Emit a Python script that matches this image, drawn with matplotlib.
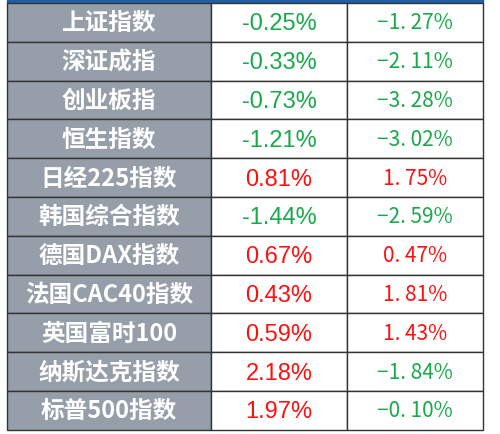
import matplotlib.pyplot as plt
from matplotlib.patches import Rectangle

plt.rcParams['font.family'] = ['Noto Sans CJK SC', 'DejaVu Sans']

names = ["上证指数", "深证成指", "创业板指", "恒生指数", "日经225指数", "韩国综合指数",
         "德国DAX指数", "法国CAC40指数", "英国富时100", "纳斯达克指数", "标普500指数"]
day_chg = [-0.25, -0.33, -0.73, -1.21, 0.81, -1.44, 0.67, 0.43, 0.59, 2.18, 1.97]
week_chg = [-1.27, -2.11, -3.28, -3.02, 1.75, -2.59, 0.47, 1.81, 1.43, -1.84, -0.10]

W, H = 500, 435
fig = plt.figure(figsize=(5, 4.35), dpi=100)
ax = fig.add_axes([0, 0, 1, 1])
ax.set_xlim(0, W)
ax.set_ylim(H, 0)
ax.axis('off')

xs = [7, 211, 347, 483]
top, rh = 4, 38.8
green, red = '#19a94b', '#ff1010'

ax.add_patch(Rectangle((xs[0], 0), xs[3] - xs[0], top, color='#1f5fa8'))
for i, name in enumerate(names):
    y = top + i * rh
    ax.add_patch(Rectangle((xs[0], y), xs[1] - xs[0], rh, facecolor='#959ea9',
                           edgecolor='#333333', lw=1))
    ax.add_patch(Rectangle((xs[1], y), xs[2] - xs[1], rh, facecolor='white',
                           edgecolor='#333333', lw=1))
    ax.add_patch(Rectangle((xs[2], y), xs[3] - xs[2], rh, facecolor='white',
                           edgecolor='#333333', lw=1))
    yc = y + rh / 2
    ax.text((xs[0] + xs[1]) / 2, yc, name, ha='center', va='center',
            color='white', fontsize=17, fontweight='bold')
    d = day_chg[i]
    ax.text((xs[1] + xs[2]) / 2, yc + 1, f"{d:.2f}%", ha='center', va='center',
            color=green if d < 0 else red, fontsize=17, family='Liberation Sans')
    w = week_chg[i]
    s = f"{w:.2f}%".replace('-', '−').replace('.', '. ')
    ax.text((xs[2] + xs[3]) / 2, yc, s, ha='center', va='center',
            color=green if w < 0 else red, fontsize=15, fontweight='medium')

fig.savefig('out.png', dpi=100)
